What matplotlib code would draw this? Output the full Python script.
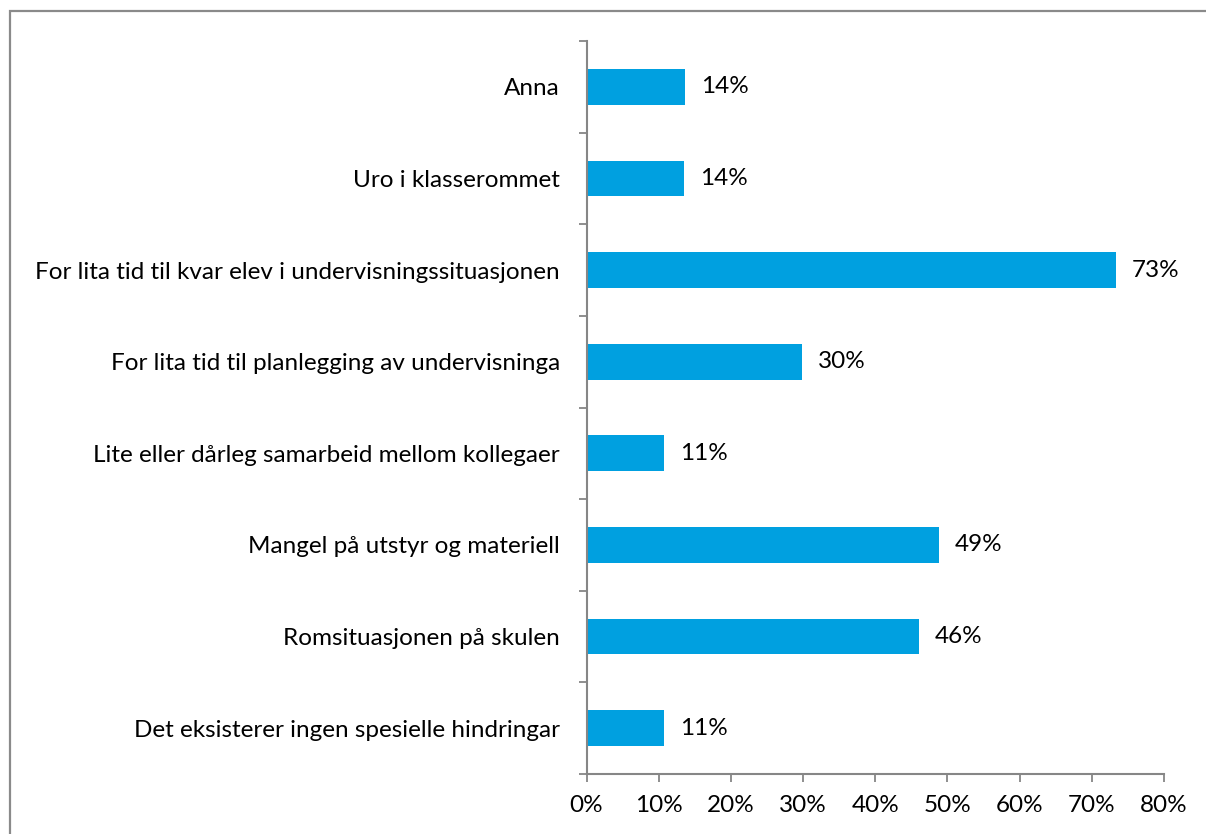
import matplotlib.pyplot as plt
from matplotlib.patches import Rectangle
from matplotlib.ticker import FixedLocator, PercentFormatter

plt.rcParams['font.family'] = ['Lato', 'DejaVu Sans']

# kategoriar frå topp til botn
categories = [
    'Anna',
    'Uro i klasserommet',
    'For lita tid til kvar elev i undervisningssituasjonen',
    'For lita tid til planlegging av undervisninga',
    'Lite eller dårleg samarbeid mellom kollegaer',
    'Mangel på utstyr og materiell',
    'Romsituasjonen på skulen',
    'Det eksisterer ingen spesielle hindringar',
]
values = [13.6, 13.5, 73.3, 29.8, 10.8, 48.8, 46.1, 10.8]
labels = ['14%', '14%', '73%', '30%', '11%', '49%', '46%', '11%']

W, H = 1206, 834
fs = 17.5
fig = plt.figure(figsize=(W / 100, H / 100), dpi=100)
ax = fig.add_axes([586.5 / W, 1 - 774 / H, (1164 - 586.5) / W, (774 - 41) / H])

grey = '#868686'
pos = list(range(len(categories)))
ax.barh(pos, values, height=0.39, color='#00A0E0')
for p, v, lab in zip(pos, values, labels):
    ax.text(v + 2.2, p, lab, va='center', ha='left', fontsize=fs, color='black')

ax.set_ylim(len(categories) - 0.5, -0.5)
ax.set_xlim(0, 80)
ax.xaxis.set_major_locator(FixedLocator(range(0, 81, 10)))
ax.xaxis.set_major_formatter(PercentFormatter(decimals=0))

# tick-merke mellom kategoriane, tekst midt på
ax.yaxis.set_major_locator(FixedLocator([i - 0.5 for i in range(len(categories) + 1)]))
ax.yaxis.set_major_formatter(plt.NullFormatter())
ax.yaxis.set_minor_locator(FixedLocator(pos))
ax.set_yticklabels(categories, minor=True)
ax.tick_params(axis='y', which='major', length=6, width=1.3, color=grey, direction='out')
ax.tick_params(axis='y', which='minor', length=0, pad=19, labelsize=fs)
ax.tick_params(axis='x', length=6, width=1.3, color=grey, pad=9, labelsize=fs)

for s in ['top', 'right']:
    ax.spines[s].set_visible(False)
for s in ['left', 'bottom']:
    ax.spines[s].set_color(grey)
    ax.spines[s].set_linewidth(1.5)

fig.patches.append(Rectangle((9.5 / W, -0.1), 1.2, 1.1 - 11.5 / H, transform=fig.transFigure,
                             fill=False, edgecolor='#8a8a8a', linewidth=1.6))

fig.savefig('out.png', dpi=100)
